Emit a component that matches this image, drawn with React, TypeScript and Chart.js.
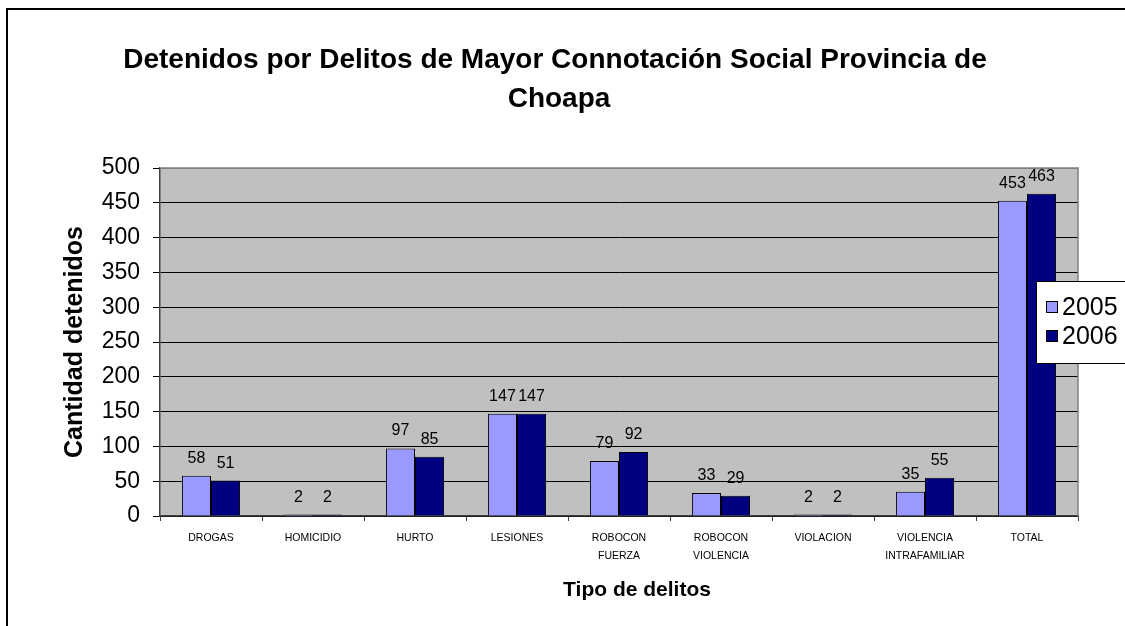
import React, { useEffect, useRef } from "react";
import { Chart, registerables } from "chart.js";

Chart.register(...registerables);

const categories: (string | string[])[] = [
  "DROGAS",
  "HOMICIDIO",
  "HURTO",
  "LESIONES",
  ["ROBOCON", "FUERZA"],
  ["ROBOCON", "VIOLENCIA"],
  "VIOLACION",
  ["VIOLENCIA", "INTRAFAMILIAR"],
  "TOTAL",
];
const values2005 = [58, 2, 97, 147, 79, 33, 2, 35, 453];
const values2006 = [51, 2, 85, 147, 92, 29, 2, 55, 463];
const seriesNames = ["2005", "2006"];
const titleLines = ["Detenidos por Delitos de Mayor Connotación Social Provincia de", "Choapa"];
const yTitle = "Cantidad detenidos";
const xTitle = "Tipo de delitos";

const FONT = "'Liberation Sans', Arial, sans-serif";
const LIGHT = "#9999FF";
const DARK = "#000080";

export default function App() {
  const ref = useRef<HTMLCanvasElement | null>(null);

  useEffect(() => {
    const canvas = ref.current;
    if (!canvas) return;

    const decor = {
      id: "decor",
      beforeDraw(chart: any) {
        const ctx = chart.ctx;
        const a = chart.chartArea;
        ctx.save();
        ctx.fillStyle = "#fff";
        ctx.fillRect(0, 0, chart.width, chart.height);
        ctx.fillStyle = "#000";
        ctx.fillRect(6, 8, chart.width, 2);
        ctx.fillRect(6, 8, 2, chart.height);
        ctx.fillStyle = "#C0C0C0";
        ctx.fillRect(a.left, a.top, a.right - a.left, a.bottom - a.top);
        ctx.restore();
      },
      beforeDatasetsDraw(chart: any) {
        const ctx = chart.ctx;
        const a = chart.chartArea;
        ctx.save();
        ctx.strokeStyle = "#808080";
        ctx.lineWidth = 1.5;
        ctx.beginPath();
        ctx.moveTo(a.left, a.top);
        ctx.lineTo(a.right, a.top);
        ctx.lineTo(a.right, a.bottom);
        ctx.stroke();
        ctx.restore();
      },
      afterDatasetsDraw(chart: any) {
        const ctx = chart.ctx;
        ctx.save();
        ctx.fillStyle = "#000";
        ctx.font = `16px ${FONT}`;
        ctx.textAlign = "center";
        ctx.textBaseline = "alphabetic";
        chart.data.datasets.forEach((ds: any, i: number) => {
          const meta = chart.getDatasetMeta(i);
          meta.data.forEach((el: any, j: number) => {
            ctx.fillText(String(ds.data[j]), el.x, el.y - 13);
          });
        });
        ctx.restore();
      },
      afterDraw(chart: any) {
        const ctx = chart.ctx;
        const a = chart.chartArea;
        ctx.save();
        ctx.fillStyle = "#000";
        ctx.font = `bold 28px ${FONT}`;
        ctx.textAlign = "center";
        ctx.textBaseline = "alphabetic";
        ctx.fillText(titleLines[0], 555, 68);
        ctx.fillText(titleLines[1], 559, 107);
        ctx.font = `bold 21px ${FONT}`;
        ctx.fillText(xTitle, 637, 596);
        ctx.save();
        ctx.font = `bold 25px ${FONT}`;
        ctx.translate(82, (a.top + a.bottom) / 2);
        ctx.rotate(-Math.PI / 2);
        ctx.fillText(yTitle, 0, 0);
        ctx.restore();
        // legend
        ctx.fillStyle = "#fff";
        ctx.fillRect(1036, 281, 120, 82);
        ctx.strokeStyle = "#000";
        ctx.lineWidth = 1;
        ctx.strokeRect(1036.5, 281.5, 120, 82);
        const colors = [LIGHT, DARK];
        const ys = [307, 336];
        ctx.font = `25px ${FONT}`;
        ctx.textAlign = "left";
        ctx.textBaseline = "middle";
        seriesNames.forEach((n, i) => {
          ctx.fillStyle = colors[i];
          ctx.fillRect(1046, ys[i] - 6, 12, 12);
          ctx.strokeStyle = "#000";
          ctx.strokeRect(1046.5, ys[i] - 5.5, 11, 11);
          ctx.fillStyle = "#000";
          ctx.fillText(n, 1062, ys[i] + 1);
        });
        ctx.restore();
      },
    };

    const chart = new Chart(canvas, {
      type: "bar",
      data: {
        labels: categories,
        datasets: [
          {
            label: seriesNames[0],
            data: values2005,
            backgroundColor: LIGHT,
            borderColor: "#000",
            borderWidth: 1,
          },
          {
            label: seriesNames[1],
            data: values2006,
            backgroundColor: DARK,
            borderColor: "#000",
            borderWidth: 1,
          },
        ],
      },
      options: {
        responsive: false,
        animation: false,
        layout: { padding: { top: 168, left: 100, right: 47, bottom: 0 } },
        datasets: {
          bar: { categoryPercentage: 0.57, barPercentage: 1 },
        },
        plugins: {
          legend: { display: false },
          title: { display: false },
          tooltip: { enabled: false },
        },
        scales: {
          x: {
            afterFit: (s: any) => {
              s.height = 110;
            },
            grid: {
              offset: true,
              drawOnChartArea: false,
              drawTicks: true,
              tickLength: 5,
              color: "#404040",
            },
            border: { display: true, color: "#404040", width: 1.5 },
            ticks: {
              color: "#000",
              padding: 8,
              maxRotation: 0,
              autoSkip: false,
              font: { family: FONT, size: 10.5, lineHeight: 1.75 },
            },
          },
          y: {
            min: 0,
            max: 500,
            afterFit: (s: any) => {
              s.width = 60;
            },
            grid: {
              color: (c: any) => (c.tick && c.tick.value === 500 ? "#808080" : "#000"),
              tickColor: "#000",
              tickLength: 7,
              lineWidth: 1,
            },
            border: { display: true, color: "#404040", width: 1.5 },
            ticks: {
              stepSize: 50,
              color: "#000",
              padding: 13,
              font: { family: FONT, size: 23 },
            },
          },
        },
      },
      plugins: [decor],
    } as any);

    return () => chart.destroy();
  }, []);

  return (
    <div style={{ position: "absolute", left: 0, top: 0, width: 1125, height: 626 }}>
      <canvas ref={ref} width={1125} height={626} style={{ display: "block", width: 1125, height: 626 }} />
    </div>
  );
}
